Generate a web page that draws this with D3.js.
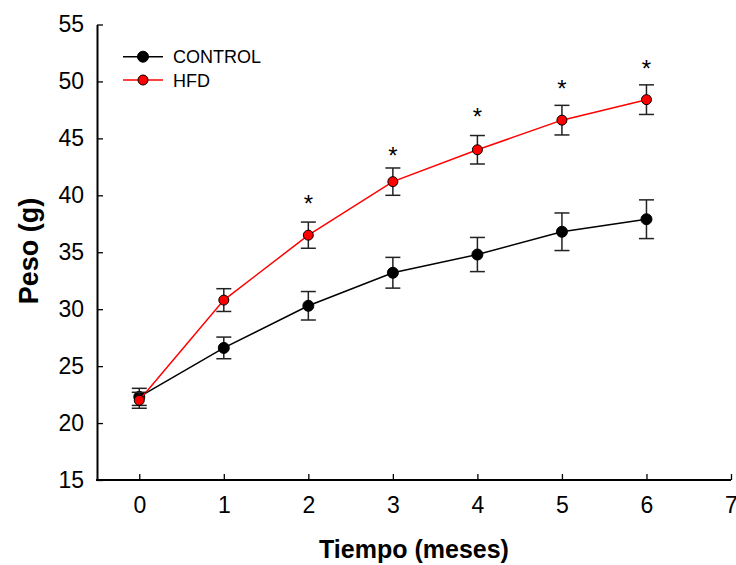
<!DOCTYPE html>
<html lang="es">
<head>
  <meta charset="utf-8">
  <title>Peso vs Tiempo</title>
  <script src="https://d3js.org/d3.v7.min.js"></script>
  <style>
    body { margin: 0; background: #fff; }
    text { font-family: "Liberation Sans", Arial, sans-serif; }
  </style>
</head>
<body>
<div id="chart"></div>
<script>
  // datos
  var meses = [0, 1, 2, 3, 4, 5, 6];
  var control = [22.3, 26.6, 30.3, 33.2, 34.8, 36.8, 37.9];
  var controlErr = [0.75, 0.95, 1.25, 1.35, 1.5, 1.65, 1.7];
  var hfd = [22.0, 30.8, 36.5, 41.2, 44.0, 46.6, 48.4];
  var hfdErr = [0.7, 1.0, 1.15, 1.2, 1.25, 1.3, 1.3];
  var estrellas = [null, null, 39.8, 44.0, 47.4, 49.9, 51.6];
  var xTicks = [0, 1, 2, 3, 4, 5, 6, 7];
  var yTicks = [15, 20, 25, 30, 35, 40, 45, 50, 55];

  var width = 736, height = 565;

  var svg = d3.select("#chart")
    .append("svg")
    .attr("width", width)
    .attr("height", height);

  var x = d3.scaleLinear().domain([-0.5, 7]).range([97, 731]);
  var y = d3.scaleLinear().domain([15, 55]).range([480, 24.5]);

  // ejes
  var xAxis = svg.append("g")
    .attr("transform", "translate(0,480)")
    .call(d3.axisBottom(x).tickValues(xTicks).tickSize(-6).tickPadding(17).tickSizeOuter(0));
  var yAxis = svg.append("g")
    .attr("transform", "translate(97,0)")
    .call(d3.axisLeft(y).tickValues(yTicks).tickSize(-6).tickPadding(13).tickSizeOuter(0));

  [xAxis, yAxis].forEach(function (g) {
    g.select(".domain").attr("stroke", "#000").attr("stroke-width", 2);
    g.selectAll(".tick line").attr("stroke", "#000").attr("stroke-width", 1.3);
    g.selectAll(".tick text").attr("fill", "#000")
      .style("font-size", "23px").style("font-family", "Liberation Sans, Arial, sans-serif");
  });
  // eje x completo desde el eje y
  xAxis.select(".domain").attr("d", "M" + (97 - 1) + ",0H731");

  svg.append("text")
    .attr("x", 414).attr("y", 558)
    .attr("text-anchor", "middle")
    .style("font-size", "25px").style("font-weight", "bold")
    .text("Tiempo (meses)");

  svg.append("text")
    .attr("transform", "translate(38,251) rotate(-90)")
    .attr("text-anchor", "middle")
    .style("font-size", "27px").style("font-weight", "bold")
    .text("Peso (g)");

  var series = [
    { name: "CONTROL", values: control, err: controlErr, color: "#000", fill: "#000", r: 5.5 },
    { name: "HFD", values: hfd, err: hfdErr, color: "#ff0000", fill: "#ff0000", r: 5 }
  ];

  var line = d3.line()
    .x(function (d, i) { return x(meses[i]); })
    .y(function (d) { return y(d); });

  series.forEach(function (s) {
    var g = svg.append("g");
    g.append("path")
      .datum(s.values)
      .attr("fill", "none")
      .attr("stroke", s.color)
      .attr("stroke-width", 1.5)
      .attr("d", line);

    var eb = g.selectAll(".eb").data(s.values).enter().append("g");
    eb.append("line")
      .attr("x1", function (d, i) { return x(meses[i]); })
      .attr("x2", function (d, i) { return x(meses[i]); })
      .attr("y1", function (d, i) { return y(d + s.err[i]); })
      .attr("y2", function (d, i) { return y(d - s.err[i]); })
      .attr("stroke", "#222").attr("stroke-width", 1.5);
    [1, -1].forEach(function (sg) {
      eb.append("line")
        .attr("x1", function (d, i) { return x(meses[i]) - 7.5; })
        .attr("x2", function (d, i) { return x(meses[i]) + 7.5; })
        .attr("y1", function (d, i) { return y(d + sg * s.err[i]); })
        .attr("y2", function (d, i) { return y(d + sg * s.err[i]); })
        .attr("stroke", "#222").attr("stroke-width", 1.5);
    });

    g.selectAll("circle").data(s.values).enter().append("circle")
      .attr("cx", function (d, i) { return x(meses[i]); })
      .attr("cy", function (d) { return y(d); })
      .attr("r", s.r)
      .attr("fill", s.fill)
      .attr("stroke", "#000")
      .attr("stroke-width", 1);
  });

  // asteriscos de significancia
  svg.selectAll(".star").data(estrellas).enter()
    .filter(function (d) { return d !== null; })
    .append("text")
    .attr("x", function (d) { return x(meses[estrellas.indexOf(d)]); })
    .attr("y", function (d) { return y(d) + 14; })
    .attr("text-anchor", "middle")
    .style("font-size", "24px")
    .text("*");

  // leyenda
  var legend = svg.append("g");
  series.forEach(function (s, i) {
    var ly = 56.7 + i * 23.3;
    legend.append("line")
      .attr("x1", 123).attr("x2", 163).attr("y1", ly).attr("y2", ly)
      .attr("stroke", s.color).attr("stroke-width", 1.5);
    legend.append("circle")
      .attr("cx", 143).attr("cy", ly).attr("r", s.r)
      .attr("fill", s.fill).attr("stroke", "#000").attr("stroke-width", 1);
    legend.append("text")
      .attr("x", 173).attr("y", ly + 6.5)
      .style("font-size", "18px")
      .text(s.name);
  });
</script>
</body>
</html>
